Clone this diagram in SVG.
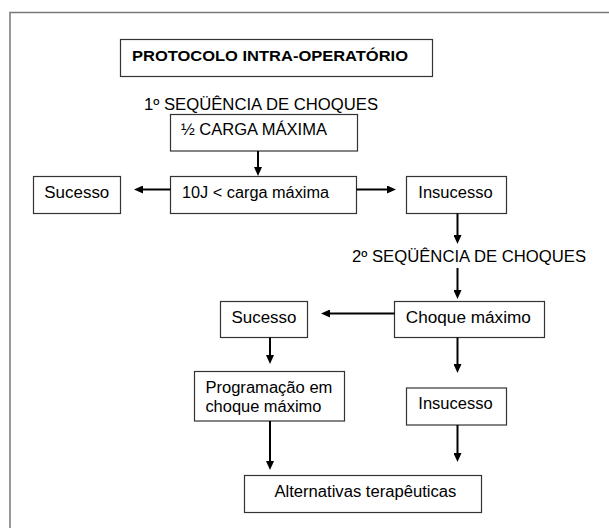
<svg xmlns="http://www.w3.org/2000/svg" width="609" height="528" viewBox="0 0 609 528">
<defs>
<marker id="ah" markerUnits="userSpaceOnUse" markerWidth="9" markerHeight="8" refX="2" refY="4" orient="auto">
<path d="M0,0 L9,4 L0,8 z" fill="#000"/>
</marker>
<style>
.box{fill:#fff;stroke:#333;stroke-width:1.2}
.t{font-family:"Liberation Sans",Arial,sans-serif;font-size:16px;fill:#000}
.tb{font-family:"Liberation Sans",Arial,sans-serif;font-size:14.5px;font-weight:bold;fill:#000}
.c{stroke:#000;stroke-width:2;fill:none;marker-end:url(#ah)}
.frame{fill:none;stroke:#777;stroke-width:1.5}
</style>
</defs>
<rect width="609" height="528" fill="#fff"/>
<path class="frame" d="M10,528 V12.5 H609"/>

<g id="title">
<rect class="box" x="120.5" y="39.5" width="312" height="37"/>
<text class="tb" x="132" y="60.5" textLength="276" lengthAdjust="spacingAndGlyphs">PROTOCOLO INTRA-OPERATÓRIO</text>
</g>
<g id="seq1">
<text class="t" x="144" y="109.5" textLength="234" lengthAdjust="spacingAndGlyphs">1º SEQÜÊNCIA DE CHOQUES</text>
</g>
<g id="meia">
<rect class="box" x="170.5" y="114.5" width="187" height="36.5"/>
<text class="t" x="181" y="135" textLength="146" lengthAdjust="spacingAndGlyphs">½ CARGA MÁXIMA</text>
</g>
<g id="dezj">
<rect class="box" x="170.5" y="176.5" width="186" height="37"/>
<text class="t" x="182" y="197.5" textLength="147" lengthAdjust="spacingAndGlyphs">10J &lt; carga máxima</text>
</g>
<g id="sucesso1">
<rect class="box" x="33.5" y="176.5" width="87" height="37"/>
<text class="t" x="44.3" y="197.5" textLength="65" lengthAdjust="spacingAndGlyphs">Sucesso</text>
</g>
<g id="insucesso1">
<rect class="box" x="406.5" y="176.5" width="100" height="37"/>
<text class="t" x="418.3" y="197.5" textLength="74.4" lengthAdjust="spacingAndGlyphs">Insucesso</text>
</g>
<g id="seq2">
<text class="t" x="352" y="262" textLength="234" lengthAdjust="spacingAndGlyphs">2º SEQÜÊNCIA DE CHOQUES</text>
</g>
<g id="choque">
<rect class="box" x="394.5" y="301.5" width="150" height="36"/>
<text class="t" x="405.8" y="322.5" textLength="125" lengthAdjust="spacingAndGlyphs">Choque máximo</text>
</g>
<g id="sucesso2">
<rect class="box" x="220.5" y="301.5" width="87" height="36"/>
<text class="t" x="231.5" y="322.5" textLength="65" lengthAdjust="spacingAndGlyphs">Sucesso</text>
</g>
<g id="programacao">
<rect class="box" x="194.5" y="371.5" width="150" height="49.5"/>
<text class="t" x="205.4" y="393.3" textLength="127" lengthAdjust="spacingAndGlyphs">Programação em</text>
<text class="t" x="205.4" y="411.7" textLength="116" lengthAdjust="spacingAndGlyphs">choque máximo</text>
</g>
<g id="insucesso2">
<rect class="box" x="406.5" y="388" width="100" height="37"/>
<text class="t" x="418.3" y="408.5" textLength="74.4" lengthAdjust="spacingAndGlyphs">Insucesso</text>
</g>
<g id="alternativas">
<rect class="box" x="244.5" y="475.5" width="237" height="37"/>
<text class="t" x="274.4" y="497" textLength="182" lengthAdjust="spacingAndGlyphs">Alternativas terapêuticas</text>
</g>

<g id="connectors">
<line class="c" x1="258" y1="151" x2="258" y2="169"/>
<line class="c" x1="170.5" y1="189.5" x2="141" y2="189.5"/>
<line class="c" x1="356.5" y1="189.5" x2="389" y2="189.5"/>
<line class="c" x1="457.5" y1="213.5" x2="457.5" y2="237"/>
<line class="c" x1="457.5" y1="268" x2="457.5" y2="292"/>
<line class="c" x1="394.5" y1="313.5" x2="328" y2="313.5"/>
<line class="c" x1="270" y1="337.5" x2="270" y2="357"/>
<line class="c" x1="457.5" y1="337.5" x2="457.5" y2="366"/>
<line class="c" x1="270" y1="421" x2="270" y2="463"/>
<line class="c" x1="457.5" y1="425" x2="457.5" y2="455"/>
</g>
</svg>
